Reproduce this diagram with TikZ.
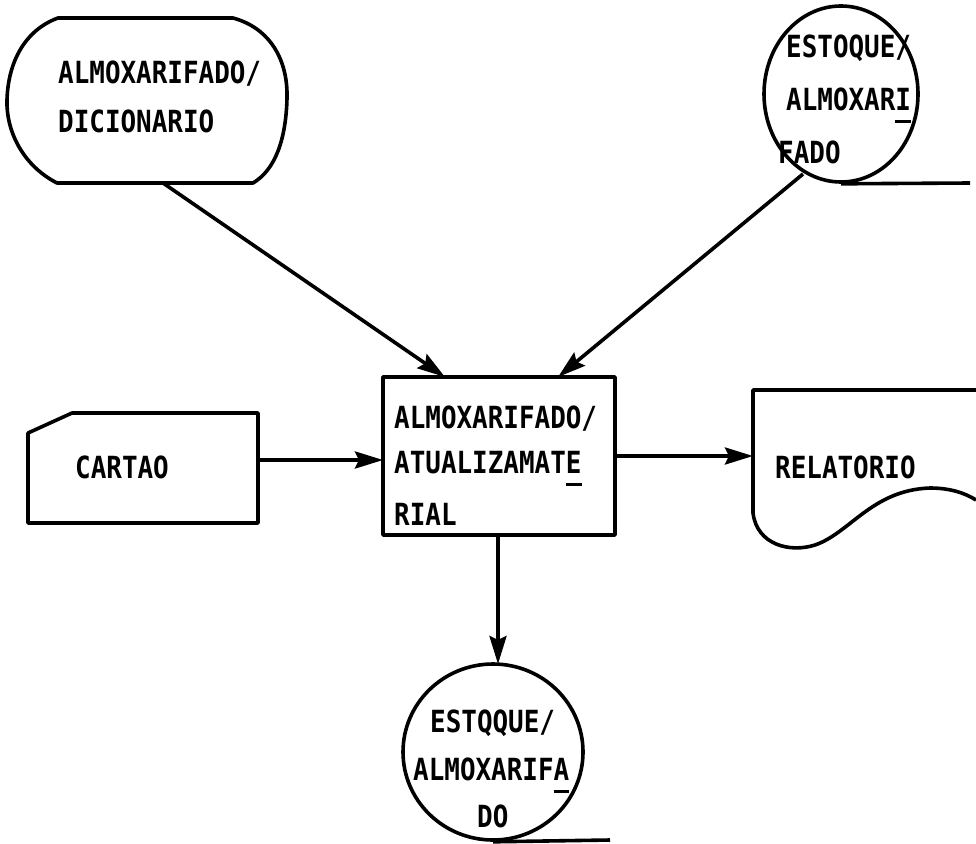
\documentclass[tikz,border=0pt]{standalone}
\usepackage{fontspec}
\usetikzlibrary{arrows.meta,shapes.geometric}
\newfontfamily\tf[FakeStretch=0.85]{DejaVu Sans Mono}
\newcommand\myul[1]{\setbox0\hbox{#1}\rlap{\copy0}\rule[-13pt]{\wd0}{3pt}}
\tikzset{
  shp/.style={line width=3.6pt, line join=round},
  lbl/.style={inner sep=0pt, anchor=base west, font=\tf\bfseries\fontsize{30.5}{36}\selectfont},
  arr/.style={line width=3.6pt, -{Stealth[length=28pt,width=17pt,inset=4pt]}},
}
\begin{document}
\begin{tikzpicture}[x=1pt,y=-1pt]
\useasboundingbox (0,0) rectangle (976,843);

% ALMOXARIFADO/DICIONARIO (stadium)
\draw[shp] (58,18) -- (233,18) .. controls (270,28) and (288,60) .. (287,98)
  .. controls (286,140) and (275,170) .. (253,183) -- (57,183)
  .. controls (22,165) and (6,130) .. (7,100) .. controls (8,62) and (25,30) .. (58,18) -- cycle;
\coordinate (dicout) at (163,183);
\node[lbl] (dic1) at (58,83) {ALMOXARIFADO/};
\node[lbl] (dic2) at (58,132) {DICIONARIO};

% ESTOQUE/ALMOXARIFADO top right
\node[shp, draw, ellipse, minimum width=154pt, minimum height=176pt, inner sep=0pt] (est1) at (841,94) {};
\coordinate (est1line) at (970,183);
\draw[shp] (est1.south) -- (est1line);
\coordinate (est1out) at (803,174);
\node[lbl] (e1a) at (786,58) {ESTOQUE/};
\node[lbl] (e1b) at (786,110) {ALMOXAR\myul{I}};
\node[lbl] (e1c) at (778,163) {FADO};

% central process box
\node[shp, draw, minimum width=232pt, minimum height=158pt, inner sep=0pt] (box) at (499,456) {};
\node[lbl] (b1) at (394,428) {ALMOXARIFADO/};
\node[lbl] (b2) at (394,473) {ATUALIZAMAT\myul{E}};
\node[lbl] (b3) at (394,525) {RIAL};
\coordinate (boxin1) at (445,377);
\coordinate (boxin2) at (558,377);
\coordinate (boxinL) at (383,460);
\coordinate (boxoutR) at (615,456);
\coordinate (boxoutB) at (498,535);

% CARTAO
\draw[shp] (28,433) -- (72,413) -- (258,413) -- (258,523) -- (28,523) -- cycle;
\coordinate (carout) at (258,460);
\node[lbl] (car) at (75,478) {CARTAO};

% RELATORIO
\draw[shp] (976,390) -- (753,390) -- (753,513)
  .. controls (757,545) and (790,553) .. (815,545)
  .. controls (850,533) and (872,490) .. (930,488)
  .. controls (950,488) and (965,493) .. (976,500);
\coordinate (relin) at (753,456);
\node[lbl] (rel) at (775,478) {RELATORIO};

% ESTQQUE/ALMOXARIFADO bottom
\node[shp, draw, ellipse, minimum width=180pt, minimum height=176pt, inner sep=0pt] (est2) at (493,752) {};
\coordinate (est2line) at (610,840);
\draw[shp] (est2.south) -- (est2line);
\coordinate (est2in) at (498,664);
\node[lbl] (e2a) at (430,732) {ESTQQUE/};
\node[lbl] (e2b) at (413,780) {ALMOXARIF\myul{A}};
\node[lbl] (e2c) at (477,827) {DO};

% connectors
\draw[arr] (dicout) -- (boxin1);
\draw[arr] (est1out) -- (boxin2);
\draw[arr] (carout) -- (boxinL);
\draw[arr] (boxoutR) -- (relin);
\draw[arr] (boxoutB) -- (est2in);
\end{tikzpicture}
\end{document}
